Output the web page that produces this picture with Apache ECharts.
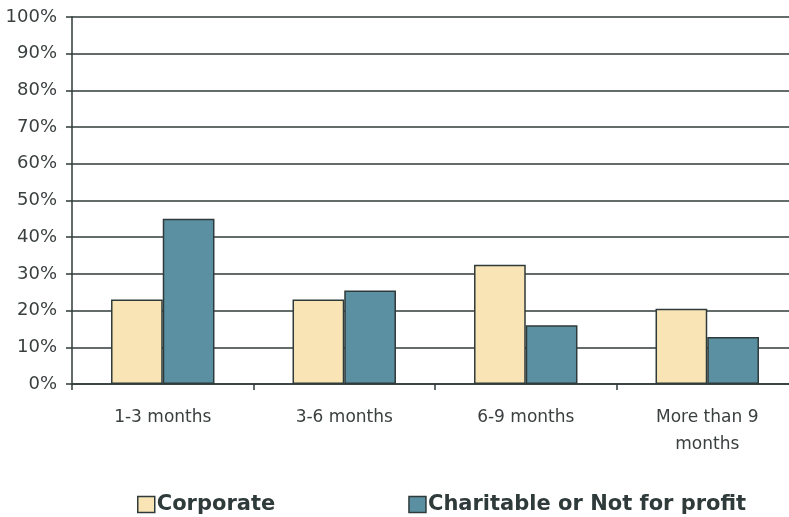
<!DOCTYPE html>
<html>
<head>
<meta charset="utf-8">
<script src="https://cdn.jsdelivr.net/npm/echarts@6/dist/echarts.min.js"></script>
<style>
  html, body { margin: 0; padding: 0; background: #ffffff; }
  #chart { width: 789px; height: 517px; }
</style>
</head>
<body>
<div id="chart"></div>
<script>
// Share of respondents by time period
const categories = ['1-3 months', '3-6 months', '6-9 months', 'More than 9\nmonths'];
const corporate = [23, 23, 32.5, 20.5];
const charitable = [45, 25.5, 16, 12.8];
const seriesNames = ['Corporate', 'Charitable or Not for profit'];

const ink = '#2f3a3a';
const labelFont = '"DejaVu Sans", Verdana, sans-serif';

const chart = echarts.init(document.getElementById('chart'));
chart.setOption({
  animation: false,
  backgroundColor: '#ffffff',
  // plot area runs slightly past the right edge of the canvas
  grid: { left: 72, top: 17, width: 726, bottom: 133, containLabel: false, outerBoundsMode: 'none' },
  legend: {
    left: 132,
    top: 489,
    icon: 'rect',
    itemWidth: 17,
    itemHeight: 16,
    itemGap: 133,
    itemStyle: { borderColor: ink, borderWidth: 1.5 },
    textStyle: { fontFamily: labelFont, fontSize: 21, fontWeight: 'bold', color: ink, padding: [0, 0, 0, -3] },
    data: seriesNames
  },
  xAxis: {
    type: 'category',
    data: categories,
    axisLine: { lineStyle: { color: ink, width: 1.5 } },
    axisTick: { show: true, length: 6, lineStyle: { color: ink, width: 1.5 } },
    axisLabel: { fontFamily: labelFont, fontSize: 17, color: '#3a3f3f', margin: 20, lineHeight: 27 }
  },
  yAxis: {
    type: 'value',
    min: 0,
    max: 100,
    interval: 10,
    axisLine: { show: true, lineStyle: { color: ink, width: 1.5 } },
    axisTick: { show: true, length: 6, lineStyle: { color: ink, width: 1.5 } },
    splitLine: { lineStyle: { color: ink, width: 1.5 } },
    axisLabel: { fontFamily: labelFont, fontSize: 18, color: '#3a3f3f', margin: 15, formatter: '{value}%' }
  },
  series: [
    {
      name: seriesNames[0],
      type: 'bar',
      data: corporate,
      barGap: '0%',
      barCategoryGap: '43%',
      itemStyle: { color: '#f8e4b5', borderColor: ink, borderWidth: 1.5 }
    },
    {
      name: seriesNames[1],
      type: 'bar',
      data: charitable,
      itemStyle: { color: '#5b90a3', borderColor: ink, borderWidth: 1.5 }
    }
  ]
});
</script>
</body>
</html>
